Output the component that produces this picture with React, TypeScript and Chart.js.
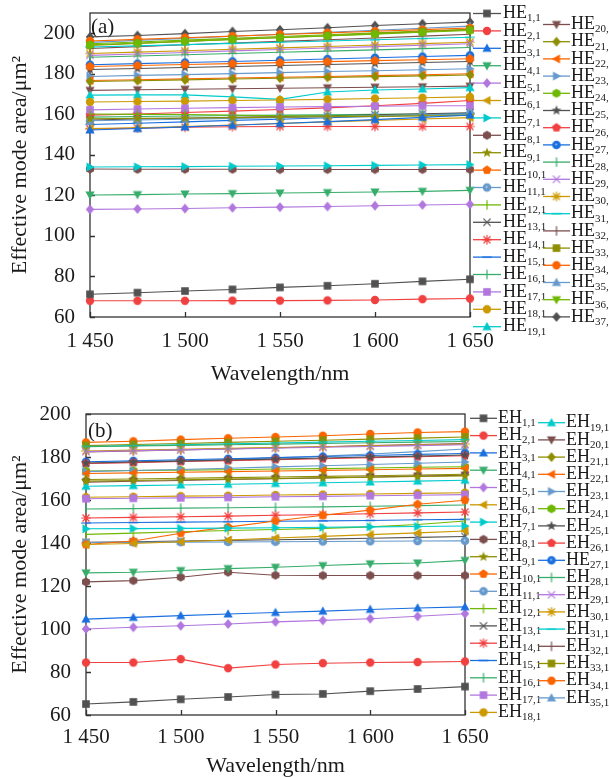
import React, { useEffect, useRef } from 'react';
import { Chart, registerables } from 'chart.js';

Chart.register(...registerables);

const FONT = "'Liberation Serif', 'Times New Roman', serif";

const wavelengths = [1450, 1475, 1500, 1525, 1550, 1575, 1600, 1625, 1650];
const xTicks = [1450, 1500, 1550, 1600, 1650];
const yTicks = [60, 80, 100, 120, 140, 160, 180, 200];

const heLabels = [
  'HE_1,1', 'HE_2,1', 'HE_3,1', 'HE_4,1', 'HE_5,1', 'HE_6,1', 'HE_7,1', 'HE_8,1', 'HE_9,1', 'HE_10,1',
  'HE_11,1', 'HE_12,1', 'HE_13,1', 'HE_14,1', 'HE_15,1', 'HE_16,1', 'HE_17,1', 'HE_18,1', 'HE_19,1',
  'HE_20,1', 'HE_21,1', 'HE_22,1', 'HE_23,1', 'HE_24,1', 'HE_25,1', 'HE_26,1', 'HE_27,1', 'HE_28,1',
  'HE_29,1', 'HE_30,1', 'HE_31,1', 'HE_32,1', 'HE_33,1', 'HE_34,1', 'HE_35,1', 'HE_36,1', 'HE_37,1',
];

const heValues: number[][] = [
  [71.2, 72.0, 72.8, 73.6, 74.6, 75.4, 76.4, 77.6, 78.6],
  [68.0, 68.0, 68.0, 68.1, 68.1, 68.2, 68.4, 68.8, 69.1],
  [152.3, 153.0, 153.8, 154.6, 155.5, 156.4, 157.4, 158.5, 159.7],
  [120.2, 120.4, 120.7, 120.9, 121.2, 121.4, 121.7, 122.0, 122.5],
  [113.1, 113.3, 113.5, 113.9, 114.2, 114.5, 114.9, 115.3, 115.6],
  [153.0, 153.4, 154.0, 154.7, 155.5, 156.3, 157.0, 157.7, 158.4],
  [134.0, 134.1, 134.2, 134.4, 134.5, 134.6, 134.8, 135.0, 135.2],
  [133.0, 132.9, 132.9, 132.9, 132.8, 132.8, 132.8, 132.8, 132.8],
  [157.8, 158.0, 158.2, 158.4, 158.6, 158.8, 159.0, 159.2, 159.4],
  [183.6, 184.1, 184.6, 185.0, 185.5, 186.0, 186.5, 186.9, 187.4],
  [156.8, 157.2, 157.6, 158.0, 158.4, 158.8, 159.3, 159.8, 160.3],
  [160.2, 160.0, 159.9, 159.7, 159.3, 159.2, 159.4, 159.6, 159.8],
  [157.2, 157.7, 158.1, 158.5, 158.9, 159.3, 159.8, 160.3, 160.8],
  [152.8, 153.2, 153.6, 153.9, 154.0, 154.0, 154.0, 154.0, 154.0],
  [155.0, 155.6, 156.3, 157.0, 157.6, 158.3, 159.0, 159.7, 160.4],
  [158.6, 158.9, 159.2, 159.4, 159.6, 159.8, 160.0, 160.2, 160.5],
  [162.2, 162.6, 163.0, 163.3, 163.6, 163.8, 164.0, 164.2, 164.2],
  [166.1, 166.3, 166.5, 166.8, 167.1, 167.4, 167.8, 168.2, 168.6],
  [169.5, 169.6, 169.6, 168.6, 167.4, 171.0, 172.0, 172.5, 173.2],
  [171.8, 172.1, 172.4, 172.6, 172.9, 173.1, 173.4, 173.6, 173.9],
  [176.2, 176.6, 177.0, 177.4, 177.8, 178.2, 178.6, 179.0, 179.4],
  [176.7, 177.1, 177.5, 177.9, 178.3, 178.7, 179.1, 179.5, 180.0],
  [178.7, 179.2, 179.6, 180.1, 180.6, 181.1, 181.5, 182.0, 182.5],
  [194.3, 195.1, 196.0, 196.9, 197.8, 198.7, 199.6, 200.5, 201.4],
  [182.1, 182.6, 183.1, 183.6, 184.1, 184.6, 185.1, 185.6, 186.1],
  [159.6, 160.2, 160.9, 161.6, 162.4, 163.2, 164.2, 165.4, 166.8],
  [184.5, 185.0, 185.6, 186.1, 186.7, 187.3, 187.9, 188.5, 189.1],
  [188.2, 188.8, 189.4, 190.0, 190.6, 191.2, 191.8, 192.4, 193.0],
  [189.1, 189.8, 190.5, 191.3, 192.0, 192.7, 193.4, 194.1, 194.8],
  [190.0, 190.7, 191.4, 192.1, 192.8, 193.5, 194.2, 194.9, 195.6],
  [193.2, 193.8, 194.4, 195.0, 195.6, 196.2, 196.8, 197.4, 198.0],
  [192.5, 193.4, 194.3, 195.2, 196.0, 196.8, 197.7, 198.6, 199.5],
  [194.0, 195.0, 196.0, 197.0, 197.9, 198.8, 199.8, 200.8, 201.8],
  [196.2, 197.0, 197.8, 198.6, 199.4, 200.2, 201.0, 201.8, 202.6],
  [195.5, 196.5, 197.5, 198.5, 199.5, 200.5, 201.5, 202.5, 203.5],
  [194.8, 195.7, 196.6, 197.5, 198.4, 199.3, 200.2, 201.1, 202.0],
  [198.2, 198.9, 199.8, 200.9, 201.7, 202.7, 203.8, 204.7, 205.5],
];

const ehLabels = [
  'EH_1,1', 'EH_2,1', 'EH_3,1', 'EH_4,1', 'EH_5,1', 'EH_6,1', 'EH_7,1', 'EH_8,1', 'EH_9,1', 'EH_10,1',
  'EH_11,1', 'EH_12,1', 'EH_13,1', 'EH_14,1', 'EH_15,1', 'EH_16,1', 'EH_17,1', 'EH_18,1',
  'EH_19,1', 'EH_20,1', 'EH_21,1', 'EH_22,1', 'EH_23,1', 'EH_24,1', 'EH_25,1', 'EH_26,1', 'HE_27,1',
  'EH_28,1', 'EH_29,1', 'EH_30,1', 'EH_31,1', 'EH_32,1', 'EH_33,1', 'EH_34,1', 'EH_35,1',
];

const ehValues: number[][] = [
  [65.1, 66.1, 67.3, 68.4, 69.5, 69.8, 71.1, 72.1, 73.2],
  [84.4, 84.4, 86.0, 81.8, 83.5, 84.1, 84.4, 84.6, 84.9],
  [104.6, 105.4, 106.2, 107.0, 107.7, 108.3, 109.1, 109.8, 110.3],
  [126.1, 126.4, 127.2, 128.1, 128.7, 129.5, 130.3, 130.7, 131.9],
  [100.0, 100.8, 101.5, 102.3, 103.3, 104.0, 104.8, 105.9, 107.1],
  [139.3, 139.8, 140.6, 141.4, 142.3, 143.1, 143.9, 144.7, 145.6],
  [146.6, 146.7, 146.8, 146.9, 147.1, 147.3, 147.5, 147.7, 147.9],
  [121.9, 122.5, 124.1, 126.4, 125.0, 124.9, 124.9, 124.9, 124.9],
  [168.8, 169.1, 169.4, 169.7, 170.0, 170.3, 170.6, 170.9, 171.2],
  [139.3, 140.9, 144.5, 147.4, 150.2, 152.9, 155.3, 158.0, 159.9],
  [140.2, 140.3, 140.4, 140.5, 140.6, 140.7, 140.8, 140.9, 141.0],
  [144.0, 144.6, 145.2, 145.8, 146.3, 146.8, 147.5, 148.6, 150.2],
  [140.3, 140.6, 140.9, 141.2, 141.5, 141.8, 142.2, 142.6, 143.0],
  [151.6, 151.9, 152.2, 152.5, 152.9, 153.2, 153.6, 154.0, 154.4],
  [149.3, 149.5, 149.7, 149.9, 150.1, 150.3, 150.5, 150.8, 151.0],
  [155.8, 156.0, 156.2, 156.4, 156.6, 156.8, 157.1, 157.4, 157.7],
  [160.6, 160.8, 161.0, 161.2, 161.5, 161.7, 162.0, 162.2, 162.5],
  [161.3, 161.5, 161.8, 162.0, 162.3, 162.5, 162.8, 163.1, 163.4],
  [166.4, 166.7, 167.0, 167.3, 167.7, 168.0, 168.4, 168.8, 169.2],
  [168.3, 168.7, 169.1, 169.5, 169.9, 170.3, 170.7, 171.1, 171.5],
  [169.5, 169.8, 170.1, 170.4, 170.7, 171.0, 171.3, 171.6, 172.0],
  [172.3, 172.6, 172.9, 173.2, 173.5, 173.8, 174.1, 174.4, 174.7],
  [173.2, 173.7, 174.2, 174.8, 175.4, 175.9, 176.5, 177.1, 177.7],
  [173.5, 173.7, 173.9, 174.1, 174.4, 174.6, 174.9, 175.2, 175.5],
  [177.2, 177.7, 178.1, 178.6, 179.0, 179.5, 180.0, 180.4, 180.9],
  [177.0, 177.4, 177.9, 178.3, 178.8, 179.2, 179.7, 180.1, 180.6],
  [177.8, 178.2, 178.7, 179.2, 179.7, 180.2, 180.7, 181.2, 181.6],
  [184.8, 185.1, 185.4, 185.7, 186.0, 186.3, 186.6, 186.9, 187.2],
  [182.5, 182.9, 183.3, 183.7, 184.1, 184.5, 184.9, 185.3, 185.7],
  [182.8, 183.2, 183.6, 184.0, 184.4, 184.8, 185.2, 185.6, 186.0],
  [184.9, 185.3, 185.7, 186.1, 186.5, 186.9, 187.3, 187.7, 188.1],
  [182.3, 182.8, 183.3, 183.8, 184.3, 184.8, 185.3, 185.8, 186.3],
  [185.3, 185.8, 186.3, 186.8, 187.3, 187.8, 188.3, 188.8, 189.3],
  [186.8, 187.3, 188.1, 188.7, 189.3, 189.9, 190.7, 191.4, 191.8],
  [177.0, 177.6, 178.2, 178.8, 179.6, 180.4, 181.4, 182.5, 183.7],
];

const palette = [
  '#515151', '#F14040', '#1A6FDF', '#37AD6B', '#B177DE', '#CC9900',
  '#00CBCC', '#7D4E4E', '#8E8E00', '#FB6501', '#6699CC', '#6FB802',
];
const shapes = [
  'square', 'circle', 'up', 'down', 'diamond', 'left', 'right', 'hexagon',
  'star', 'pentagon', 'sphere', 'vbar', 'x', 'asterisk', 'hbar', 'vbar',
];

function makeMarker(shape: string, color: string): HTMLCanvasElement {
  const s = 12;
  const c = document.createElement('canvas');
  c.width = s;
  c.height = s;
  const ctx = c.getContext('2d')!;
  const cx = s / 2;
  const cy = s / 2;
  ctx.fillStyle = color;
  ctx.strokeStyle = color;
  ctx.lineWidth = 1.2;
  const poly = (pts: number[][]) => {
    ctx.beginPath();
    pts.forEach(([x, y], i) => (i ? ctx.lineTo(cx + x, cy + y) : ctx.moveTo(cx + x, cy + y)));
    ctx.closePath();
    ctx.fill();
  };
  const regular = (n: number, r: number) => {
    const pts: number[][] = [];
    for (let k = 0; k < n; k++) {
      const a = -Math.PI / 2 + (k * 2 * Math.PI) / n;
      pts.push([r * Math.cos(a), r * Math.sin(a)]);
    }
    poly(pts);
  };
  const lines = (segs: number[][]) => {
    ctx.beginPath();
    segs.forEach(([x1, y1, x2, y2]) => {
      ctx.moveTo(cx + x1, cy + y1);
      ctx.lineTo(cx + x2, cy + y2);
    });
    ctx.stroke();
  };
  switch (shape) {
    case 'square':
      ctx.fillRect(cx - 3.8, cy - 3.8, 7.6, 7.6);
      break;
    case 'circle':
      ctx.beginPath();
      ctx.arc(cx, cy, 4.2, 0, Math.PI * 2);
      ctx.fill();
      break;
    case 'up':
      poly([[0, -4.7], [4.6, 3.5], [-4.6, 3.5]]);
      break;
    case 'down':
      poly([[0, 4.7], [4.6, -3.5], [-4.6, -3.5]]);
      break;
    case 'left':
      poly([[-4.7, 0], [3.5, -4.6], [3.5, 4.6]]);
      break;
    case 'right':
      poly([[4.7, 0], [-3.5, -4.6], [-3.5, 4.6]]);
      break;
    case 'diamond':
      poly([[0, -5], [4.2, 0], [0, 5], [-4.2, 0]]);
      break;
    case 'hexagon':
      regular(6, 4.6);
      break;
    case 'pentagon':
      regular(5, 4.7);
      break;
    case 'star': {
      const pts: number[][] = [];
      for (let k = 0; k < 10; k++) {
        const a = -Math.PI / 2 + (k * Math.PI) / 5;
        const r = k % 2 === 0 ? 5.2 : 2.2;
        pts.push([r * Math.cos(a), r * Math.sin(a)]);
      }
      poly(pts);
      break;
    }
    case 'sphere':
      ctx.beginPath();
      ctx.arc(cx, cy, 4.3, 0, Math.PI * 2);
      ctx.fill();
      ctx.fillStyle = 'rgba(255,255,255,0.6)';
      ctx.beginPath();
      ctx.arc(cx - 0.4, cy - 0.4, 1.0, 0, Math.PI * 2);
      ctx.fill();
      break;
    case 'vbar':
      lines([[0, -4.8, 0, 4.8]]);
      break;
    case 'hbar':
      lines([[-4.8, 0, 4.8, 0]]);
      break;
    case 'x':
      lines([[-3.6, -3.6, 3.6, 3.6], [-3.6, 3.6, 3.6, -3.6]]);
      break;
    case 'asterisk':
      lines([[-3.5, -3.5, 3.5, 3.5], [-3.5, 3.5, 3.5, -3.5], [0, -4.8, 0, 4.8], [-4.8, 0, 4.8, 0]]);
      break;
    default:
      break;
  }
  return c;
}

const fmtThousands = (v: number) => String(v).replace(/(\d)(\d{3})$/, '$1 $2');

interface PanelCfg {
  height: number;
  yMax: number;
  plotTop: number;
  plotLeft: number;
  plotRight: number;
  plotBottom: number;
  panelLabel: string;
  labelPos: [number, number];
  labels: string[];
  values: number[][];
  col1Count: number;
  col1: { lineX0: number; lineX1: number; textX: number; y0: number; dy: number };
  col2: { lineX0: number; lineX1: number; textX: number; y0: number; dy: number };
  xTickPad: number;
  xTitlePad: number;
}

function buildChart(canvas: HTMLCanvasElement, cfg: PanelCfg) {
  const markers = cfg.values.map((_, i) => makeMarker(shapes[i % shapes.length], palette[i % palette.length]));
  const datasets = cfg.values.map((vals, i) => ({
    label: cfg.labels[i].replace('_', ''),
    data: wavelengths.map((w, j) => ({ x: w, y: vals[j] })),
    borderColor: palette[i % palette.length],
    backgroundColor: palette[i % palette.length],
    borderWidth: 1.1,
    pointStyle: markers[i] as any,
    pointRadius: 4,
    tension: 0,
    clip: false as any,
  }));

  const decor = {
    id: 'decor',
    beforeDatasetsDraw(chart: any) {
      const { ctx, chartArea: a, scales } = chart;
      ctx.save();
      ctx.strokeStyle = '#333';
      ctx.lineWidth = 1.3;
      ctx.strokeRect(a.left, a.top, a.right - a.left, a.bottom - a.top);
      ctx.beginPath();
      yTicks.forEach((v) => {
        if (v > cfg.yMax) return;
        const y = Math.round(scales.y.getPixelForValue(v)) + 0.5;
        ctx.moveTo(a.left, y);
        ctx.lineTo(a.left + 5, y);
      });
      xTicks.forEach((v) => {
        const x = Math.round(scales.x.getPixelForValue(v)) + 0.5;
        ctx.moveTo(x, a.bottom);
        ctx.lineTo(x, a.bottom - 5);
      });
      ctx.stroke();
      ctx.fillStyle = '#1a1a1a';
      ctx.font = `21px ${FONT}`;
      ctx.textBaseline = 'middle';
      ctx.textAlign = 'left';
      ctx.fillText(cfg.panelLabel, cfg.labelPos[0], cfg.labelPos[1]);
      ctx.restore();
    },
    afterDraw(chart: any) {
      const { ctx } = chart;
      ctx.save();
      cfg.labels.forEach((lab, i) => {
        const inCol1 = i < cfg.col1Count;
        const col = inCol1 ? cfg.col1 : cfg.col2;
        const row = inCol1 ? i : i - cfg.col1Count;
        const y = col.y0 + row * col.dy;
        const color = palette[i % palette.length];
        ctx.strokeStyle = color;
        ctx.lineWidth = 1.3;
        ctx.beginPath();
        ctx.moveTo(col.lineX0, y);
        ctx.lineTo(col.lineX1, y);
        ctx.stroke();
        const m = markers[i];
        ctx.drawImage(m, (col.lineX0 + col.lineX1) / 2 - m.width / 2, y - m.height / 2);
        const [main, sub] = lab.split('_');
        ctx.fillStyle = '#1a1a1a';
        ctx.textAlign = 'left';
        ctx.textBaseline = 'middle';
        ctx.font = `18px ${FONT}`;
        ctx.fillText(main, col.textX, y);
        const w = ctx.measureText(main).width;
        ctx.font = `11px ${FONT}`;
        ctx.fillText(sub, col.textX + w, y + 5);
      });
      ctx.restore();
    },
  };

  const W = 609;
  return new Chart(canvas, {
    type: 'line',
    data: { datasets },
    options: {
      responsive: false,
      animation: false,
      devicePixelRatio: 1,
      layout: { padding: { left: 0, right: W - cfg.plotRight, top: cfg.plotTop, bottom: 0 } },
      plugins: { legend: { display: false }, tooltip: { enabled: false } },
      scales: {
        x: {
          type: 'linear',
          min: 1450,
          max: 1650,
          grid: { display: false, drawTicks: false },
          border: { display: false },
          afterBuildTicks: (s: any) => {
            s.ticks = xTicks.map((v) => ({ value: v }));
          },
          afterFit: (s: any) => {
            s.height = cfg.height - cfg.plotBottom;
            s.paddingLeft = 0;
            s.paddingRight = 0;
          },
          ticks: {
            font: { family: FONT, size: 21 },
            color: '#1a1a1a',
            padding: cfg.xTickPad,
            maxRotation: 0,
            autoSkip: false,
            callback: (v: any) => fmtThousands(Number(v)),
          },
          title: {
            display: true,
            text: 'Wavelength/nm',
            font: { family: FONT, size: 22, lineHeight: 1 },
            color: '#1a1a1a',
            padding: { top: 0, bottom: cfg.xTitlePad },
          },
        },
        y: {
          type: 'linear',
          min: 60,
          max: cfg.yMax,
          grid: { display: false, drawTicks: false },
          border: { display: false },
          afterBuildTicks: (s: any) => {
            s.ticks = yTicks.map((v) => ({ value: v }));
          },
          afterFit: (s: any) => {
            s.width = cfg.plotLeft;
            s.paddingTop = 0;
            s.paddingBottom = 0;
          },
          ticks: {
            font: { family: FONT, size: 21 },
            color: '#1a1a1a',
            padding: 15,
          },
          title: {
            display: true,
            text: 'Effective mode area/μm²',
            font: { family: FONT, size: 22, lineHeight: 1 },
            color: '#1a1a1a',
            padding: { top: 9, bottom: 0 },
          },
        },
      },
    } as any,
    plugins: [decor],
  });
}

const panelA: PanelCfg = {
  height: 388,
  yMax: 210,
  plotTop: 13,
  plotLeft: 90,
  plotRight: 470,
  plotBottom: 317,
  panelLabel: '(a)',
  labelPos: [91, 27],
  labels: heLabels,
  values: heValues,
  col1Count: 19,
  col1: { lineX0: 473, lineX1: 501, textX: 503, y0: 13.5, dy: 17.4 },
  col2: { lineX0: 543, lineX1: 570, textX: 571, y0: 24.5, dy: 17.2 },
  xTickPad: 12,
  xTitlePad: 3,
};

const panelB: PanelCfg = {
  height: 389,
  yMax: 200,
  plotTop: 26,
  plotLeft: 86,
  plotRight: 465,
  plotBottom: 327,
  panelLabel: '(b)',
  labelPos: [88, 43],
  labels: ehLabels,
  values: ehValues,
  col1Count: 18,
  col1: { lineX0: 470, lineX1: 497, textX: 498, y0: 30.3, dy: 17.3 },
  col2: { lineX0: 538, lineX1: 565, textX: 566, y0: 34.7, dy: 17.2 },
  xTickPad: 10,
  xTitlePad: 0,
};

export default function App() {
  const refA = useRef<HTMLCanvasElement>(null);
  const refB = useRef<HTMLCanvasElement>(null);

  useEffect(() => {
    Chart.defaults.font.family = FONT;
    const a = buildChart(refA.current!, panelA);
    const b = buildChart(refB.current!, panelB);
    return () => {
      a.destroy();
      b.destroy();
    };
  }, []);

  return (
    <div style={{ position: 'absolute', left: 0, top: 0, width: 609, height: 777, background: '#fff' }}>
      <canvas ref={refA} width={609} height={388} style={{ display: 'block' }} />
      <canvas ref={refB} width={609} height={389} style={{ display: 'block' }} />
    </div>
  );
}
